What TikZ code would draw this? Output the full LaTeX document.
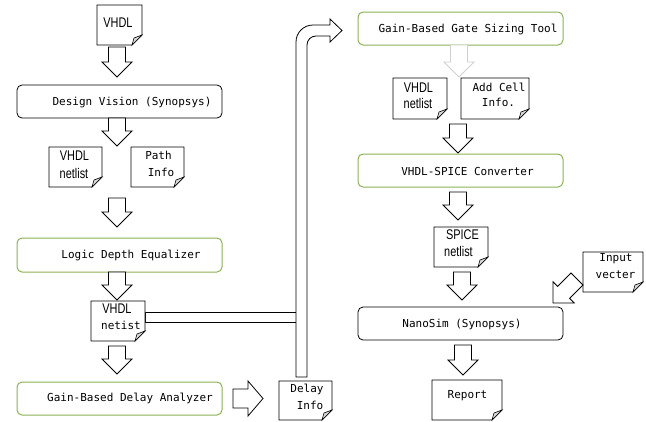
\documentclass[tikz,border=0pt]{standalone}
\usepackage{fontspec}
\newfontfamily\monof{DejaVu Sans Mono}
\newfontfamily\narf[FakeStretch=0.78]{Liberation Sans}
\definecolor{boxgreen}{HTML}{8DB255}
\definecolor{flapgray}{HTML}{D9D9D9}
\definecolor{lightarrow}{HTML}{D0D0D0}
\tikzset{
  procbox/.style={draw=black, line width=0.8pt, rounded corners=5pt, fill=white},
  greenbox/.style={procbox, draw=boxgreen, line width=1pt},
  boxtext/.style={inner sep=0pt, font=\monof\fontsize{11}{13}\selectfont},
  doctext/.style={inner sep=0pt, font=\monof\fontsize{11}{13}\selectfont},
  narrowtext/.style={inner sep=0pt, font=\narf\fontsize{14}{16}\selectfont},
  blockarrow/.style={draw=black, line width=0.8pt, fill=white, line join=miter},
  docline/.style={draw=black, line width=0.8pt, fill=white},
}
% document shape: name, x1, y1, x2, y2
\newcommand\docpage[5]{%
  \path[docline] (#2,#3) -- (#4,#3) -- (#4,#5-10) -- (#4-10,#5) -- (#2,#5) -- cycle;
  \path[draw=black, line width=0.6pt, fill=flapgray] (#4,#5-10) -- (#4-8,#5-7) -- (#4-10,#5) -- cycle;
  \coordinate (#1) at ({(#2+#4)/2},{(#3+#5)/2});
}
% downward block arrow: centre x, top y, tip y, style
\newcommand\downarr[4][blockarrow]{%
  \path[#1] (#2-8.5,#3) -- (#2+8.5,#3) -- (#2+8.5,#4-15) -- (#2+15,#4-15) -- (#2,#4)
    -- (#2-15,#4-15) -- (#2-8.5,#4-15) -- cycle;
}
\begin{document}
\begin{tikzpicture}[x=1pt,y=-1pt]
\useasboundingbox (0,0) rectangle (646,421);

% ---------------- left column ----------------
\docpage{vhdl}{97}{5}{142}{45}
\node[narrowtext] (vhdlt) at (118,23) {VHDL};

\downarr{117}{47}{77}

\path[procbox] (17,85) rectangle (222,118);
\coordinate (dv) at (119.5,101.5);
\node[boxtext] (dvt) at (132,102) {Design Vision (Synopsys)};

\downarr{117}{118}{146}

\docpage{nlA}{49}{147}{102}{187}
\node[narrowtext] (nlAa) at (74.5,156) {VHDL};
\node[narrowtext] (nlAb) at (74,173) {netlist};

\docpage{path}{131}{147}{184}{187}
\node[doctext] (patha) at (158.5,155) {Path};
\node[doctext] (pathb) at (161,172) {Info};

\downarr{117}{198}{227}

\path[greenbox] (17,238) rectangle (222,272);
\coordinate (lde) at (119.5,255);
\node[boxtext] (ldet) at (131,255) {Logic Depth Equalizer};

\downarr{117}{272}{300}

% connector: netlist + delay info up to gate sizing tool
\path[blockarrow] (145,312) rectangle (297,322);

\docpage{nlB}{91}{301}{145}{341}
\node[narrowtext] (nlBa) at (117,309) {VHDL};
\node[doctext] (nlBb) at (121,325) {netist};

\downarr{117}{346}{374}

\path[greenbox] (17,382) rectangle (222,415);
\coordinate (gbda) at (119.5,398.5);
\node[boxtext] (gbdat) at (130,398.5) {Gain-Based Delay Analyzer};

% right arrow to delay info
\path[blockarrow] (233,389) -- (248,389) -- (248,381) -- (263,398.5) -- (248,416) -- (248,408) -- (233,408) -- cycle;

\docpage{delay}{279}{381}{332}{420}
\node[doctext] (delaya) at (307,389) {Delay};
\node[doctext] (delayb) at (310,405) {Info};

% big bent arrow
\path[blockarrow] (296,377) -- (296,42) .. controls (296,32.6) and (303.6,25) .. (313,25)
  -- (330,25) -- (330,19) -- (342,30.5) -- (330,42) -- (330,36) -- (316,36)
  .. controls (311,36) and (307,40) .. (307,45) -- (307,377) -- cycle;

% ---------------- right column ----------------
\path[greenbox] (358,12) rectangle (563,45);
\coordinate (gs) at (460.5,28.5);
\node[boxtext] (gst) at (468,29) {Gain-Based Gate Sizing Tool};

\downarr[blockarrow, draw=lightarrow]{459}{45}{77}

\docpage{nlC}{393}{78}{447}{119}
\node[narrowtext] (nlCa) at (418.5,88) {VHDL};
\node[narrowtext] (nlCb) at (418,103) {netlist};

\docpage{addc}{461}{78}{529}{119}
\node[doctext] (addca) at (499,87) {Add Cell};
\node[doctext] (addcb) at (498.5,102) {Info.};

\downarr{458}{124}{153}

\path[greenbox] (358,154) rectangle (563,187);
\coordinate (vsc) at (460.5,170.5);
\node[boxtext] (vsct) at (467.5,171) {VHDL-SPICE Converter};

\downarr{458}{192}{220}

\docpage{spice}{434}{227}{488}{267}
\node[narrowtext] (spicea) at (462.5,235) {SPICE};
\node[narrowtext] (spiceb) at (458.5,251) {netlist};

\docpage{input}{583}{252}{643}{292}
\node[doctext] (inputa) at (616,259) {Input};
\node[doctext] (inputb) at (615.5,275) {vecter};

% diagonal arrow from input vecter
\path[blockarrow] (553,303) -- (574.2,303) -- (569.6,298.4) -- (583,285) -- (571,273)
  -- (557.6,286.4) -- (553,281.8) -- cycle;

\downarr{462}{272}{300}

\path[procbox] (358,307) rectangle (563,340);
\coordinate (ns) at (460.5,323.5);
\node[boxtext] (nst) at (462,324) {NanoSim (Synopsys)};

\downarr{463}{345}{375}

\docpage{report}{432}{380}{502}{420}
\node[doctext] (reporta) at (467.5,396) {Report};
\end{tikzpicture}
\end{document}
